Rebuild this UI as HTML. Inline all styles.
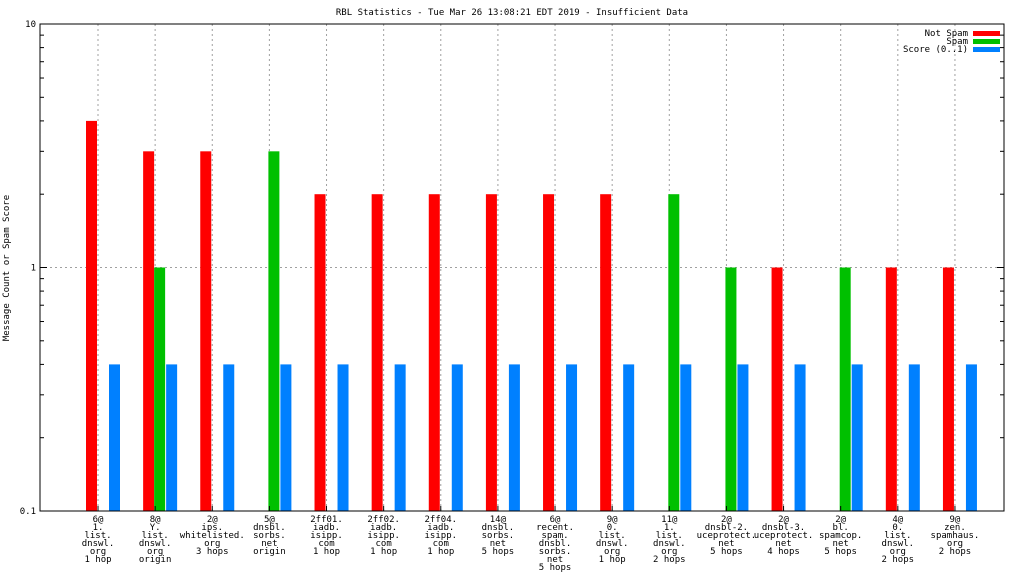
<!DOCTYPE html>
<html><head><meta charset="utf-8"><style>
html,body{margin:0;padding:0;background:#fff;}
svg text{font-family:"DejaVu Sans Mono","Liberation Mono",monospace;font-size:9px;fill:#000;}
</style></head><body>
<svg id="chart" width="1024" height="576" xmlns="http://www.w3.org/2000/svg">
<text x="512" y="15" text-anchor="middle">RBL Statistics - Tue Mar 26 13:08:21 EDT 2019 - Insufficient Data</text>
<text transform="translate(9,268) rotate(-90)" text-anchor="middle">Message Count or Spam Score</text>
<g id="grid"></g><g id="bars"></g><g id="axes"></g>
<g>
<text x="968" y="36" text-anchor="end">Not Spam</text>
<rect x="973" y="31" width="27" height="5" fill="#ff0000"/>
<text x="968" y="44" text-anchor="end">Spam</text>
<rect x="973" y="39" width="27" height="5" fill="#00c000"/>
<text x="968" y="52" text-anchor="end">Score (0..1)</text>
<rect x="973" y="47" width="27" height="5" fill="#0080ff"/>
</g>
</svg>
<script>
const categories=[["6@","1.","list.","dnswl.","org","1 hop"],["8@","Y.","list.","dnswl.","org","origin"],["2@","ips.","whitelisted.","org","3 hops"],["5@","dnsbl.","sorbs.","net","origin"],["2ff01.","iadb.","isipp.","com","1 hop"],["2ff02.","iadb.","isipp.","com","1 hop"],["2ff04.","iadb.","isipp.","com","1 hop"],["14@","dnsbl.","sorbs.","net","5 hops"],["6@","recent.","spam.","dnsbl.","sorbs.","net","5 hops"],["9@","0.","list.","dnswl.","org","1 hop"],["11@","1.","list.","dnswl.","org","2 hops"],["2@","dnsbl-2.","uceprotect.","net","5 hops"],["2@","dnsbl-3.","uceprotect.","net","4 hops"],["2@","bl.","spamcop.","net","5 hops"],["4@","0.","list.","dnswl.","org","2 hops"],["9@","zen.","spamhaus.","org","2 hops"]];
const notSpam=[4,3,3,0,2,2,2,2,2,2,0,0,1,0,1,1];
const spam=[0,1,0,3,0,0,0,0,0,0,2,1,0,1,0,0];
const score=[0.4,0.4,0.4,0.4,0.4,0.4,0.4,0.4,0.4,0.4,0.4,0.4,0.4,0.4,0.4,0.4];
const yTicks=[0.1,1,10];
const yTickLabels=["0.1","1","10"];
const L=40,R=1004,T=24,B=511;
const NS="http://www.w3.org/2000/svg";
function y(v){return B-(Math.log10(v)+1)/2*(B-T);}
function xc(i){return 98+i*57.13;}
function mk(tag,attrs,parent){const e=document.createElementNS(NS,tag);for(const k in attrs)e.setAttribute(k,attrs[k]);parent.appendChild(e);return e;}
const grid=document.getElementById('grid'),bars=document.getElementById('bars'),axes=document.getElementById('axes');
categories.forEach((c,i)=>{
  const g=mk('line',{x1:xc(i),x2:xc(i),y1:T,y2:B,stroke:'#a0a0a0','stroke-dasharray':'2,3'},grid);
  
  
  const series=[[notSpam[i],-12,'#ff0000','bar-not-spam'],[spam[i],-1,'#00c000','bar-spam'],[score[i],11,'#0080ff','bar-score']];
  series.forEach(s=>{
    if(s[0]>0.1){
      const r=mk('rect',{x:xc(i)+s[1],y:y(s[0]),width:11,height:B-y(s[0]),fill:s[2]},bars);
      
      
    }
  });
  const t=mk('text',{x:xc(i),y:522,'text-anchor':'middle'},axes);
  
  
  c.forEach((ln,j)=>{const ts=mk('tspan',{x:xc(i),dy:j?8:0},t);ts.textContent=ln;});
  mk('line',{x1:xc(i),x2:xc(i),y1:B,y2:B-5,stroke:'#000'},axes);
});
yTicks.forEach((v,i)=>{
  if(v>0.1&&v<10){const g=mk('line',{x1:L,x2:R,y1:y(v),y2:y(v),stroke:'#a0a0a0','stroke-dasharray':'2,3'},grid);
  
  }
  mk('line',{x1:L,x2:L+7,y1:y(v),y2:y(v),stroke:'#000'},axes);
  mk('line',{x1:R,x2:R-7,y1:y(v),y2:y(v),stroke:'#000'},axes);
  const t=mk('text',{x:L-4,y:y(v)+3,'text-anchor':'end'},axes);
  
  
  t.textContent=yTickLabels[i];
});
[0.1,1].forEach(d=>{for(let k=2;k<10;k++){const v=d*k;
  mk('line',{x1:L,x2:L+4,y1:y(v),y2:y(v),stroke:'#000'},axes);
  mk('line',{x1:R,x2:R-4,y1:y(v),y2:y(v),stroke:'#000'},axes);}});
const f=mk('rect',{x:L,y:T,width:R-L,height:B-T,fill:'none',stroke:'#000'},axes);


</script>
</body></html>
